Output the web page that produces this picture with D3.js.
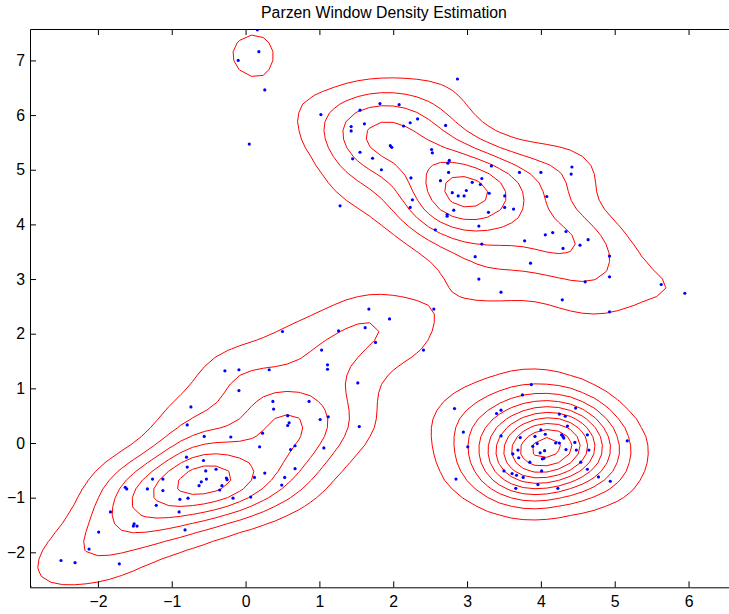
<!DOCTYPE html>
<html>
<head>
<meta charset="utf-8">
<script src="https://cdn.jsdelivr.net/npm/d3@7"></script>
<style>
  body { margin: 0; background: #fff; }
  svg { display: block; }
  text { font-family: "Liberation Sans", Arial, Helvetica, sans-serif; }
</style>
</head>
<body>
<svg id="chart" width="729" height="614"></svg>
<script>
// Sample points, grouped by cluster: [x, y]
const topPts = [
  [0.16, 7.56], [0.18, 7.16], [-0.10, 7.00], [0.26, 6.46], [0.05, 5.47]
];
const upperPts = [
  [2.87, 6.66], [1.02, 6.01], [1.82, 6.21], [2.08, 6.19], [1.55, 6.09], [1.43, 5.79],
  [1.43, 5.71], [1.61, 5.84], [2.14, 5.80], [2.23, 5.86], [2.33, 5.93], [2.71, 5.81],
  [1.96, 5.44], [1.98, 5.41], [1.55, 5.32], [1.45, 5.20], [1.72, 5.21], [1.84, 5.00],
  [2.52, 5.37], [2.53, 5.31], [2.76, 5.17], [2.74, 5.12], [2.75, 4.95], [2.24, 4.85],
  [2.64, 4.80], [3.07, 4.77], [3.20, 4.84], [3.18, 4.73], [3.33, 5.07], [2.99, 4.62],
  [2.80, 4.58], [2.88, 4.52], [2.96, 4.52], [3.30, 4.57], [2.26, 4.45], [2.23, 4.31],
  [1.28, 4.34], [2.82, 4.26], [2.73, 4.18], [2.73, 4.15], [3.29, 4.22], [3.16, 3.97],
  [2.57, 3.90], [3.71, 4.95], [4.00, 4.95], [4.42, 5.05], [4.41, 4.92], [3.51, 4.52],
  [3.51, 4.31], [3.63, 4.28], [4.08, 4.51], [4.34, 3.87], [4.06, 3.81], [4.16, 3.85],
  [3.78, 3.70], [4.30, 3.56], [4.53, 3.62], [4.64, 3.72], [3.20, 3.64], [3.11, 3.41],
  [3.86, 3.29], [4.93, 3.42], [3.16, 3.00], [3.46, 2.76], [4.29, 2.62], [4.60, 2.95],
  [4.93, 3.04], [5.63, 2.90], [5.95, 2.74], [4.93, 2.40]
];
const lowerLeftPts = [
  [1.67, 2.45], [2.55, 2.45], [1.95, 2.27], [1.62, 2.11], [1.26, 2.05], [1.76, 1.84],
  [2.41, 1.70], [0.50, 2.04], [1.03, 1.70], [1.11, 1.43], [1.11, 1.35], [1.52, 1.10],
  [-0.28, 1.32], [-0.09, 1.34], [0.32, 1.34], [-0.09, 0.96], [-0.74, 0.66], [0.37, 0.76],
  [0.38, 0.62], [0.86, 0.76], [0.57, 0.50], [0.59, 0.37], [0.57, 0.32], [1.01, 0.43],
  [1.12, 0.48], [1.54, 0.30], [-0.79, 0.33], [-0.56, 0.12], [-0.20, 0.11], [0.23, 0.18],
  [0.19, -0.07], [0.67, -0.05], [0.61, -0.12], [1.06, -0.09], [-0.80, -0.26], [-0.57, -0.32],
  [-0.79, -0.44], [-0.54, -0.51], [-0.40, -0.48], [0.67, -0.47], [-0.53, -0.66], [-0.60, -0.71],
  [-0.63, -0.78], [-0.26, -0.64], [-0.25, -0.67], [-0.32, -0.78], [-0.35, -0.86], [0.12, -0.63],
  [0.26, -0.55], [0.53, -0.63], [0.49, -0.77], [-0.17, -1.01], [0.07, -0.99], [-0.78, -1.01],
  [-1.26, -0.66], [-1.12, -0.66], [-1.33, -0.84], [-1.12, -0.87], [-0.89, -1.03], [-1.21, -1.14],
  [-0.90, -1.26], [-0.82, -1.59], [-1.63, -0.81], [-1.61, -0.84], [-1.83, -1.26], [-1.51, -1.48],
  [-1.47, -1.52], [-1.52, -1.52], [-1.99, -1.63], [-2.12, -1.94], [-2.50, -2.15], [-2.31, -2.19],
  [-1.71, -2.21], [-2.92, -2.63]
];
const lowerRightPts = [
  [3.87, 1.07], [3.75, 0.88], [2.83, 0.63], [3.40, 0.54], [3.46, 0.60], [4.47, 0.64],
  [4.25, 0.53], [4.33, 0.49], [2.95, 0.20], [3.01, -0.07], [3.46, 0.13], [3.72, 0.10],
  [4.00, 0.24], [4.06, 0.16], [3.92, 0.12], [3.95, -0.01], [3.89, -0.06], [3.69, -0.13],
  [3.62, -0.20], [3.70, -0.27], [3.85, -0.35], [3.99, -0.18], [4.05, -0.14], [4.02, -0.29],
  [4.04, -0.28], [4.28, 0.15], [4.30, 0.12], [4.31, 0.09], [4.20, 0.00], [4.25, 0.00],
  [4.36, 0.31], [4.46, 0.01], [4.34, -0.12], [4.48, -0.13], [4.63, 0.15], [4.65, -0.13],
  [4.54, -0.35], [4.63, -0.48], [5.17, 0.04], [4.78, -0.62], [4.94, -0.70], [4.01, -0.51],
  [3.96, -0.76], [4.23, -0.83], [3.50, -0.51], [3.61, -0.56], [3.67, -0.59], [3.76, -0.63],
  [3.66, -0.83], [2.85, -0.66]
];

const xTicks = [-2, -1, 0, 1, 2, 3, 4, 5, 6];
const yTicks = [-2, -1, 0, 1, 2, 3, 4, 5, 6, 7];
const xLimits = [-2.92, 6.67];
const yLimits = [-2.64, 7.575];
const titleText = "Parzen Window Density Estimation";

// Parzen window (Gaussian kernel) settings
const bandwidth = 0.45;
const gridStep = 0.16;
const levelCount = 10;

const points = [].concat(topPts, upperPts, lowerLeftPts, lowerRightPts);

const svg = d3.select("#chart");
const x = d3.scaleLinear().domain(xLimits).range([30, 738]);
const y = d3.scaleLinear().domain(yLimits).range([587.3, 29]);

svg.append("defs").append("clipPath").attr("id", "plotClip")
  .append("rect")
  .attr("x", x.range()[0]).attr("y", y.range()[1])
  .attr("width", x.range()[1] - x.range()[0])
  .attr("height", y.range()[0] - y.range()[1]);

// Density on a regular grid
const gx0 = -3.6, gx1 = 7.2, gy0 = -3.4, gy1 = 8.4;
const nx = Math.round((gx1 - gx0) / gridStep) + 1;
const ny = Math.round((gy1 - gy0) / gridStep) + 1;
const values = new Float64Array(nx * ny);
const twoH2 = 2 * bandwidth * bandwidth;
for (let j = 0; j < ny; j++) {
  const gy = gy0 + j * gridStep;
  for (let i = 0; i < nx; i++) {
    const gx = gx0 + i * gridStep;
    let s = 0;
    for (const p of points) {
      const dx = gx - p[0], dy = gy - p[1];
      s += Math.exp(-(dx * dx + dy * dy) / twoH2);
    }
    values[j * nx + i] = s;
  }
}
const vmax = d3.max(values);
const levelStep = vmax / (levelCount + 0.5);
const thresholds = d3.range(1, levelCount + 1).map(k => k * levelStep);

const contours = d3.contours().size([nx, ny]).thresholds(thresholds)(Array.from(values));
const gridToPixel = d3.geoTransform({
  point(gxi, gyi) {
    this.stream.point(x(gx0 + (gxi - 0.5) * gridStep), y(gy0 + (gyi - 0.5) * gridStep));
  }
});
const path = d3.geoPath(gridToPixel);

const plotArea = svg.append("g").attr("clip-path", "url(#plotClip)");
plotArea.append("g")
  .selectAll("path")
  .data(contours)
  .join("path")
  .attr("d", path)
  .attr("fill", "none")
  .attr("stroke", "#ff0000")
  .attr("stroke-width", 1)
  .attr("stroke-linejoin", "round");

plotArea.append("g")
  .selectAll("circle")
  .data(points)
  .join("circle")
  .attr("cx", d => x(d[0]))
  .attr("cy", d => y(d[1]))
  .attr("r", 1.6)
  .attr("fill", "#0000ff");

// Axes with inward ticks (box style)
const tickLen = 6;
const fmt = d3.format("d");
const axisFont = "15.8px";

const bottom = svg.append("g")
  .attr("transform", `translate(0,${y.range()[0]})`)
  .call(d3.axisBottom(x).tickValues(xTicks).tickFormat(fmt)
    .tickSizeInner(-tickLen).tickSizeOuter(0).tickPadding(8));
const left = svg.append("g")
  .attr("transform", `translate(${x.range()[0]},0)`)
  .call(d3.axisLeft(y).tickValues(yTicks).tickFormat(fmt)
    .tickSizeInner(-tickLen).tickSizeOuter(0).tickPadding(5));
const topAxis = svg.append("g")
  .attr("transform", `translate(0,${y.range()[1]})`)
  .call(d3.axisTop(x).tickValues(xTicks).tickFormat("")
    .tickSizeInner(-tickLen).tickSizeOuter(0));

[bottom, left, topAxis].forEach(g => {
  g.select(".domain").attr("stroke", "#000").attr("stroke-width", 1);
  g.selectAll(".tick line").attr("stroke", "#000");
  g.selectAll("text").attr("fill", "#000").style("font-size", axisFont)
    .style("font-family", '"Liberation Sans", Arial, Helvetica, sans-serif');
});

svg.append("text")
  .attr("x", (x.range()[0] + x.range()[1]) / 2)
  .attr("y", 18)
  .attr("text-anchor", "middle")
  .attr("fill", "#000")
  .style("font-size", "15.8px")
  .text(titleText);
</script>
</body>
</html>
